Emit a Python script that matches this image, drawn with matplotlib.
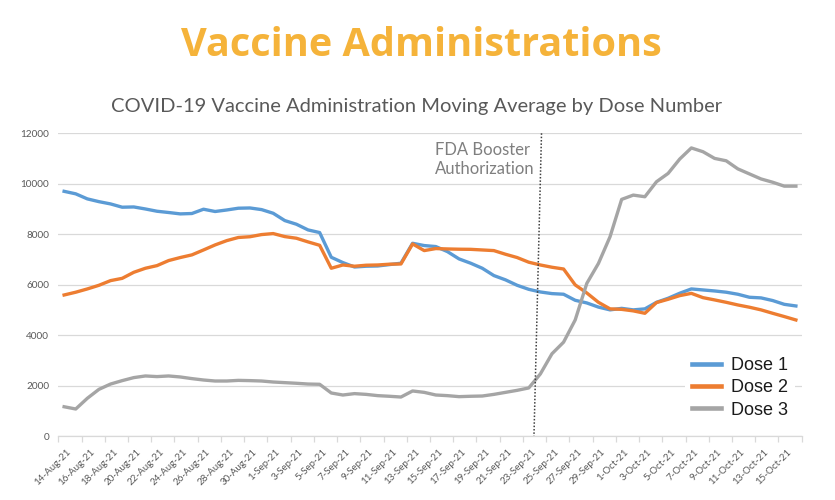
import matplotlib
matplotlib.use("Agg")
import matplotlib.pyplot as plt
import matplotlib.transforms as mtransforms
import pandas as pd

# ---- data ----
dates = pd.date_range("2021-08-14", "2021-10-16", freq="D")
categories = [f"{d.day}-{d.strftime('%b')}-{d.strftime('%y')}" for d in dates]

dose1 = [9700, 9600, 9400, 9290, 9200, 9070, 9080, 9000, 8910, 8860,
         8805, 8820, 8990, 8900, 8960, 9030, 9040, 8975, 8830, 8540,
         8395, 8170, 8065, 7085, 6875, 6700, 6730, 6740, 6795, 6850,
         7640, 7550, 7510, 7310, 7020, 6850, 6650, 6360, 6190, 5975,
         5815, 5710, 5645, 5620, 5380, 5275, 5110, 5000, 5060, 5000,
         5040, 5300, 5460, 5660, 5830, 5790, 5750, 5700, 5620, 5500,
         5475, 5370, 5220, 5155]
dose2 = [5590, 5700, 5830, 5975, 6160, 6250, 6490, 6650, 6755, 6955,
         7075, 7180, 7375, 7575, 7745, 7870, 7900, 7985, 8025, 7905,
         7840, 7695, 7560, 6650, 6780, 6730, 6770, 6780, 6810, 6820,
         7615, 7350, 7430, 7415, 7405, 7400, 7375, 7350, 7205, 7075,
         6890, 6780, 6690, 6620, 5990, 5670, 5300, 5040, 5020, 4960,
         4865, 5290, 5420, 5565, 5655, 5485, 5395, 5300, 5195, 5105,
         5000, 4865, 4735, 4600]
dose3 = [1160, 1070, 1495, 1850, 2060, 2195, 2315, 2380, 2355, 2380,
         2340, 2275, 2220, 2180, 2180, 2205, 2195, 2180, 2140, 2115,
         2090, 2060, 2050, 1705, 1625, 1680, 1650, 1600, 1575, 1545,
         1785, 1730, 1625, 1600, 1560, 1575, 1585, 1650, 1730, 1810,
         1905, 2460, 3260, 3720, 4600, 6050, 6840, 7900, 9380, 9550,
         9485, 10080, 10410, 10980, 11420, 11270, 11005, 10910, 10590, 10390,
         10190, 10060, 9905, 9905]
series_names = ["Dose 1", "Dose 2", "Dose 3"]
series_colors = ["#5B9BD5", "#ED7D31", "#A5A5A5"]
y_ticks = [0, 2000, 4000, 6000, 8000, 10000, 12000]
# booster authorization marker (category position, top / bottom of plot)
fda_pos_top = 41.1
fda_pos_bottom = 40.45
fda_label = "FDA Booster\nAuthorization"

# ---- figure ----
fig = plt.figure(figsize=(8.35, 5.0), dpi=100)
ax = fig.add_axes([58.3 / 835, 1 - 436 / 500, (801.7 - 58.3) / 835, (436 - 133.3) / 500])

x = list(range(len(categories)))
for vals, name, col in zip([dose1, dose2, dose3], series_names, series_colors):
    ax.plot(x, vals, color=col, lw=2.4, label=name, solid_joinstyle="round")

ax.set_xlim(-0.5, len(categories) - 0.5)
ax.set_ylim(0, 12000)
ax.set_yticks(y_ticks)
ax.set_yticklabels([str(v) for v in y_ticks], fontsize=7.2, color="#595959", family="Lato")
ax.tick_params(axis="y", length=0, pad=6.5)
ax.grid(axis="y", color="#D9D9D9", lw=0.9)
ax.set_axisbelow(True)
for s in ["top", "right", "left"]:
    ax.spines[s].set_visible(False)
ax.spines["bottom"].set_color("#D9D9D9")
ax.spines["bottom"].set_linewidth(0.9)

# minor ticks = tick marks between category pairs; major = labels
ax.set_xticks([i - 0.5 for i in range(0, len(categories) + 1, 2)], minor=True)
ax.tick_params(axis="x", which="minor", length=4, color="#D9D9D9", width=0.9)
ax.set_xticks(x[::2])
ax.set_xticklabels(categories[::2], rotation=45, ha="right", va="top",
                   rotation_mode="anchor", fontsize=7, color="#595959", family="Lato")
ax.tick_params(axis="x", which="major", length=0, pad=8)
offset = mtransforms.ScaledTranslation(2.5 / 100, 0, fig.dpi_scale_trans)
for lab in ax.get_xticklabels():
    lab.set_transform(lab.get_transform() + offset)

# FDA booster dotted line
ax.plot([fda_pos_top, fda_pos_bottom], [12000, 0], linestyle=(0, (1, 1.2)),
        color="#404040", lw=1.1)
ax.text(fda_pos_top - 9.17, 11640, fda_label, ha="left", va="top",
        fontsize=12, color="#7F7F7F", family="Lato", linespacing=1.2)

leg = ax.legend(loc="upper left", bbox_to_anchor=(685 / 835, 1 - 350 / 500),
                bbox_transform=fig.transFigure, borderaxespad=0, frameon=True,
                prop={"family": "Liberation Sans", "size": 13}, handlelength=1.6,
                handletextpad=0.55, labelspacing=0.29, borderpad=0.4)
leg.get_frame().set_facecolor("white")
leg.get_frame().set_edgecolor("none")
leg.get_frame().set_alpha(1)
for t in leg.get_texts():
    t.set_color("#1A1A1A")
for h in leg.get_lines():
    h.set_linewidth(3.3)

fig.text(0.505, 1 - 56 / 500, "Vaccine Administrations", ha="center", va="baseline",
         fontsize=28.5, fontweight="bold", color="#F5B33A", family="Open Sans")
fig.text(416.5 / 835, 1 - 112.3 / 500,
         "COVID-19 Vaccine Administration Moving Average by Dose Number",
         ha="center", va="baseline", fontsize=14.5, color="#595959", family="Lato")

fig.savefig("out.png", dpi=100)
